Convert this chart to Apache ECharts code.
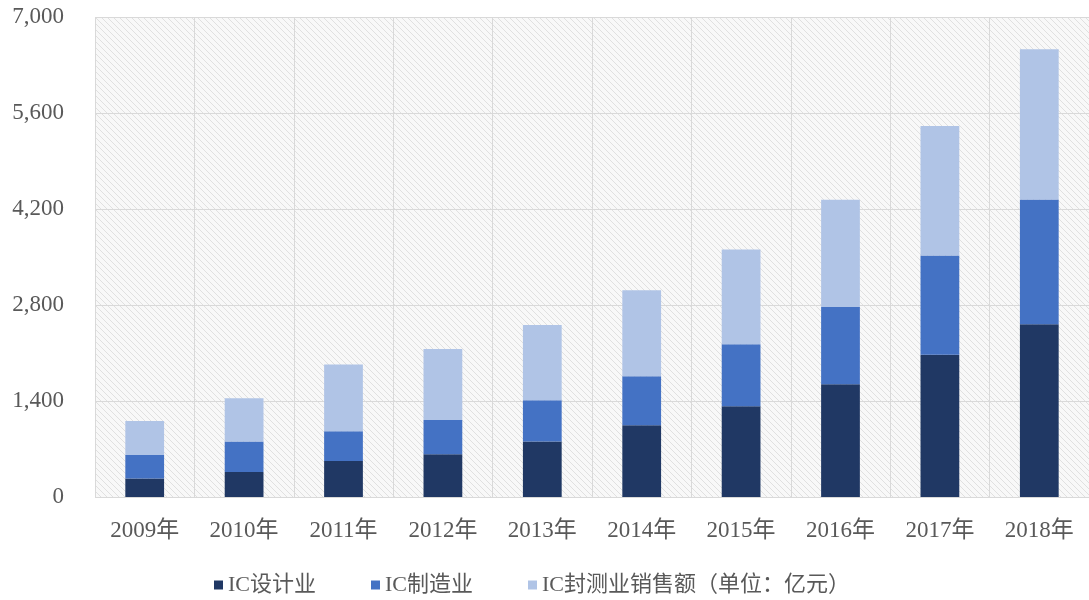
<!DOCTYPE html>
<html>
<head>
<meta charset="utf-8">
<script src="https://cdn.jsdelivr.net/npm/echarts@6/dist/echarts.min.js"></script>
<style>
html, body { margin: 0; padding: 0; background: #fff; }
#chart { width: 1089px; height: 600px; }
</style>
</head>
<body>
<div id="chart"></div>
<script>
var years = ["2009年", "2010年", "2011年", "2012年", "2013年", "2014年", "2015年", "2016年", "2017年", "2018年"];
var designSales = [269.9, 363.9, 526.4, 621.7, 808.8, 1047.4, 1325.0, 1644.3, 2073.5, 2519.3];
var makingSales = [341.1, 447.1, 431.6, 501.1, 600.9, 712.1, 900.8, 1126.9, 1448.1, 1818.2];
var packSales = [498.2, 629.2, 975.7, 1035.7, 1098.9, 1255.9, 1384.0, 1564.3, 1889.7, 2193.9];
var seriesNames = ["IC设计业", "IC制造业", "IC封测业销售额（单位：亿元）"];
var legendLeft = [214, 371, 528];

// hatched background for the plot area
function makeHatch()
{
    var c = document.createElement("canvas");
    c.width = 6;
    c.height = 6;
    var ctx = c.getContext("2d");
    ctx.fillStyle = "#f8f8f8";
    ctx.fillRect(0, 0, 6, 6);
    ctx.strokeStyle = "#e0e0e0";
    ctx.lineWidth = 1;
    ctx.beginPath();
    ctx.moveTo(-1, -1); ctx.lineTo(7, 7);
    ctx.moveTo(-4, 2); ctx.lineTo(4, 10);
    ctx.moveTo(2, -4); ctx.lineTo(10, 4);
    ctx.stroke();
    return c;
}

var font = '"Liberation Serif", "Noto Sans CJK SC", serif';
var chart = echarts.init(document.getElementById("chart"));

var legends = seriesNames.map(function (name, i)
{
    return {
        bottom: 4,
        left: legendLeft[i],
        padding: 0,
        itemWidth: 9,
        itemHeight: 9,
        itemGap: 0,
        icon: "rect",
        textStyle: { fontFamily: font, fontSize: 22, color: "#595959", padding: [0, 0, 0, 0] },
        data: [name]
    };
});

chart.setOption({
    animation: false,
    textStyle: { fontFamily: font },
    grid: {
        left: 95, right: 0, top: 17, bottom: 103,
        show: true,
        borderWidth: 0,
        backgroundColor: { image: makeHatch(), repeat: "repeat" }
    },
    legend: legends,
    xAxis: {
        type: "category",
        data: years,
        axisLine: { show: false },
        axisTick: { show: false },
        axisLabel: { fontSize: 23, color: "#595959", margin: 22 },
        splitLine: { show: true, lineStyle: { color: "#d9d9d9", width: 1 } }
    },
    yAxis: {
        type: "value",
        min: 0,
        max: 7000,
        interval: 1400,
        axisLine: { show: false },
        axisTick: { show: false },
        axisLabel: {
            fontSize: 23, color: "#595959", margin: 31,
            formatter: function (v) { return v.toLocaleString("en-US"); }
        },
        splitLine: { lineStyle: { color: "#d9d9d9", width: 1 } }
    },
    series: [
        { name: seriesNames[0], type: "bar", stack: "ic", barWidth: "39%", data: designSales, itemStyle: { color: "#203864" } },
        { name: seriesNames[1], type: "bar", stack: "ic", data: makingSales, itemStyle: { color: "#4472c4" } },
        { name: seriesNames[2], type: "bar", stack: "ic", data: packSales, itemStyle: { color: "#b0c4e6" } }
    ]
});
</script>
</body>
</html>
